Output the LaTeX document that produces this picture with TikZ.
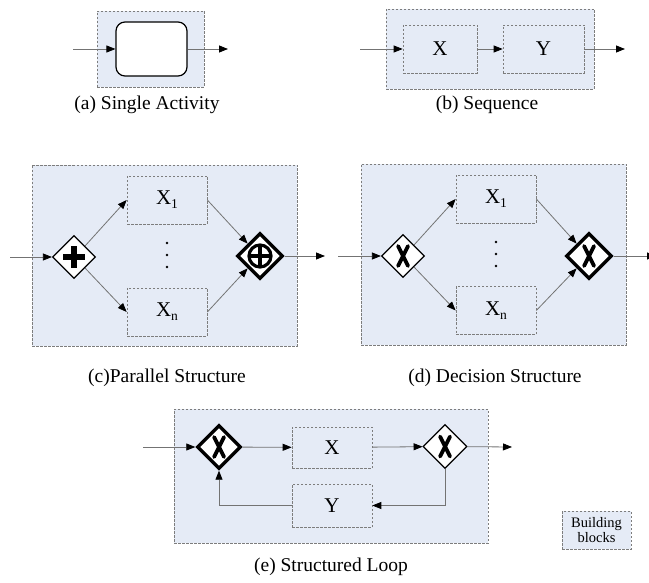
\documentclass[tikz,border=0pt]{standalone}
\usepackage{fontspec}
\setmainfont{Liberation Serif}
\usetikzlibrary{shapes.geometric,arrows.meta}
\definecolor{blockfill}{RGB}{229,235,246}
\definecolor{dashgray}{RGB}{125,125,125}
\definecolor{flowgray}{RGB}{115,115,115}
\newcommand{\sub}[2]{#1\raisebox{-4pt}{\fontsize{13.5}{13.5}\selectfont #2}}
\begin{document}
\begin{tikzpicture}[x=1pt,y=-1pt,
  block/.style={draw=dashgray,fill=blockfill,line width=0.7pt,dash pattern=on 2.5pt off 1.5pt,
    inner sep=0pt,minimum width=#1},
  task/.style={draw=dashgray,fill=blockfill,line width=0.7pt,dash pattern=on 2.5pt off 1.5pt,
    inner sep=0pt,minimum width=80pt,minimum height=48pt,font=\fontsize{21}{23}\selectfont},
  activity/.style={draw=black,fill=white,line width=1.2pt,rounded corners=9pt,
    minimum width=71pt,minimum height=54pt},
  gate/.style={diamond,draw=black,fill=white,inner sep=0pt,shape aspect=1,
    minimum width=#1,minimum height=#1},
  thingate/.style={gate=43pt,line width=1.2pt},
  thickgate/.style={gate=46pt,line width=3.4pt},
  plusmark/.style={path picture={
      \fill[black] ([shift={(-11,-3)}]path picture bounding box.center) rectangle ++(22,6);
      \fill[black] ([shift={(-3,-11)}]path picture bounding box.center) rectangle ++(6,22);}},
  circplusmark/.style={path picture={
      \draw[black,line width=3.2pt] (path picture bounding box.center) circle (11pt);
      \draw[black,line width=3.2pt] ([shift={(-11,0)}]path picture bounding box.center) -- ++(22,0);
      \draw[black,line width=3.2pt] ([shift={(0,-11)}]path picture bounding box.center) -- ++(0,22);}},
  xmark/.style={path picture={
      \draw[black,line width=3.8pt,line cap=round] ([shift={(-5,-10)}]path picture bounding box.center) -- ++(10,20);
      \draw[black,line width=3.8pt,line cap=round] ([shift={(5,-10)}]path picture bounding box.center) -- ++(-10,20);}},
  flow/.style={draw=flowgray,line width=0.8pt,-{Triangle[length=9pt,width=7pt,black]}},
  caption/.style={font=\fontsize{19.5}{22}\selectfont},
  dot/.style={circle,fill=black,inner sep=0pt,minimum size=2.8pt}
]
\useasboundingbox (0,0) rectangle (649,583);

% (a) single activity
\node[block=107pt,minimum height=76pt] (blkA) at (150.5,49) {};
\node[activity] (act) at (151.5,49) {};
\coordinate (aIn) at (73,49);
\coordinate (aOut) at (228,49);
\draw[flow] (aIn) -- (act);
\draw[flow] (act) -- (aOut);
\node[caption] (capA) at (147,105) {(a) Single Activity};

% (b) sequence
\node[block=208pt,minimum height=80pt] (blkB) at (490,49) {};
\node[task,minimum width=74pt] (bx) at (440,49) {X};
\node[task,minimum width=81pt] (by) at (543.5,49) {Y};
\coordinate (bIn) at (360,49);
\coordinate (bOut) at (625,49);
\draw[flow] (bIn) -- (bx);
\draw[flow] (bx) -- (by);
\draw[flow] (by) -- (bOut);
\node[caption] (capB) at (487,105) {(b) Sequence};

% (c) parallel structure
\node[block=265pt,minimum height=181pt] (blkC) at (164.5,255.5) {};
\node[task] (cx1) at (167,200) {\sub{X}{1}};
\node[task] (cxn) at (167,312) {\sub{X}{n}};
\node[thingate,plusmark] (cL) at (74,257) {};
\node[thickgate,circplusmark] (cR) at (260,256) {};
\node[dot] (cd1) at (167,243) {};
\node[dot] (cd2) at (167,255) {};
\node[dot] (cd3) at (167,267) {};
\coordinate (cIn) at (10,257);
\coordinate (cOut) at (325,256);
\draw[flow] (cIn) -- (cL);
\draw[flow] (cL.north east) -- (cx1.west);
\draw[flow] (cL.south east) -- (cxn.west);
\draw[flow] (cx1.east) -- (cR.north west);
\draw[flow] (cxn.east) -- (cR.south west);
\draw[flow] (cR) -- (cOut);
\node[caption] (capC) at (167,378) {(c)Parallel Structure};

% (d) decision structure
\node[block=265pt,minimum height=181pt] (blkD) at (493.5,254.5) {};
\node[task] (dx1) at (496,199) {\sub{X}{1}};
\node[task] (dxn) at (496,310.5) {\sub{X}{n}};
\node[thingate,xmark] (dL) at (403,256) {};
\node[thickgate,xmark] (dR) at (589,256) {};
\node[dot] (dd1) at (496,242) {};
\node[dot] (dd2) at (496,254) {};
\node[dot] (dd3) at (496,266) {};
\coordinate (dIn) at (338,256);
\coordinate (dOut) at (656,256);
\draw[flow] (dIn) -- (dL);
\draw[flow] (dL.north east) -- (dx1.west);
\draw[flow] (dL.south east) -- (dxn.west);
\draw[flow] (dx1.east) -- (dR.north west);
\draw[flow] (dxn.east) -- (dR.south west);
\draw[flow] (dR) -- (dOut);
\node[caption] (capD) at (495,378) {(d) Decision Structure};

% (e) structured loop
\node[block=314pt,minimum height=134pt] (blkE) at (331,476) {};
\node[thickgate,xmark,minimum width=44pt,minimum height=44pt] (eL) at (219,447) {};
\node[task,minimum height=41pt] (ex) at (332,447.5) {X};
\node[task,minimum height=43pt] (ey) at (332,505.5) {Y};
\node[thingate,xmark,minimum width=44pt,minimum height=44pt] (eR) at (445,446.5) {};
\coordinate (eIn) at (143,447);
\coordinate (eOut) at (512,447);
\draw[flow] (eIn) -- (eL);
\draw[flow] (eL) -- (ex);
\draw[flow] (ex) -- (eR);
\draw[flow] (eR) -- (eOut);
\draw[flow] (eR.south) |- (ey.east);
\draw[flow] (ey.west) -| (eL.south);
\node[caption] (capE) at (331,567) {(e) Structured Loop};

% legend
\node[block=69pt,minimum height=38pt,align=center,font=\fontsize{14.5}{15}\selectfont] (legend) at (596.5,530) {Building\\blocks};
\end{tikzpicture}
\end{document}
